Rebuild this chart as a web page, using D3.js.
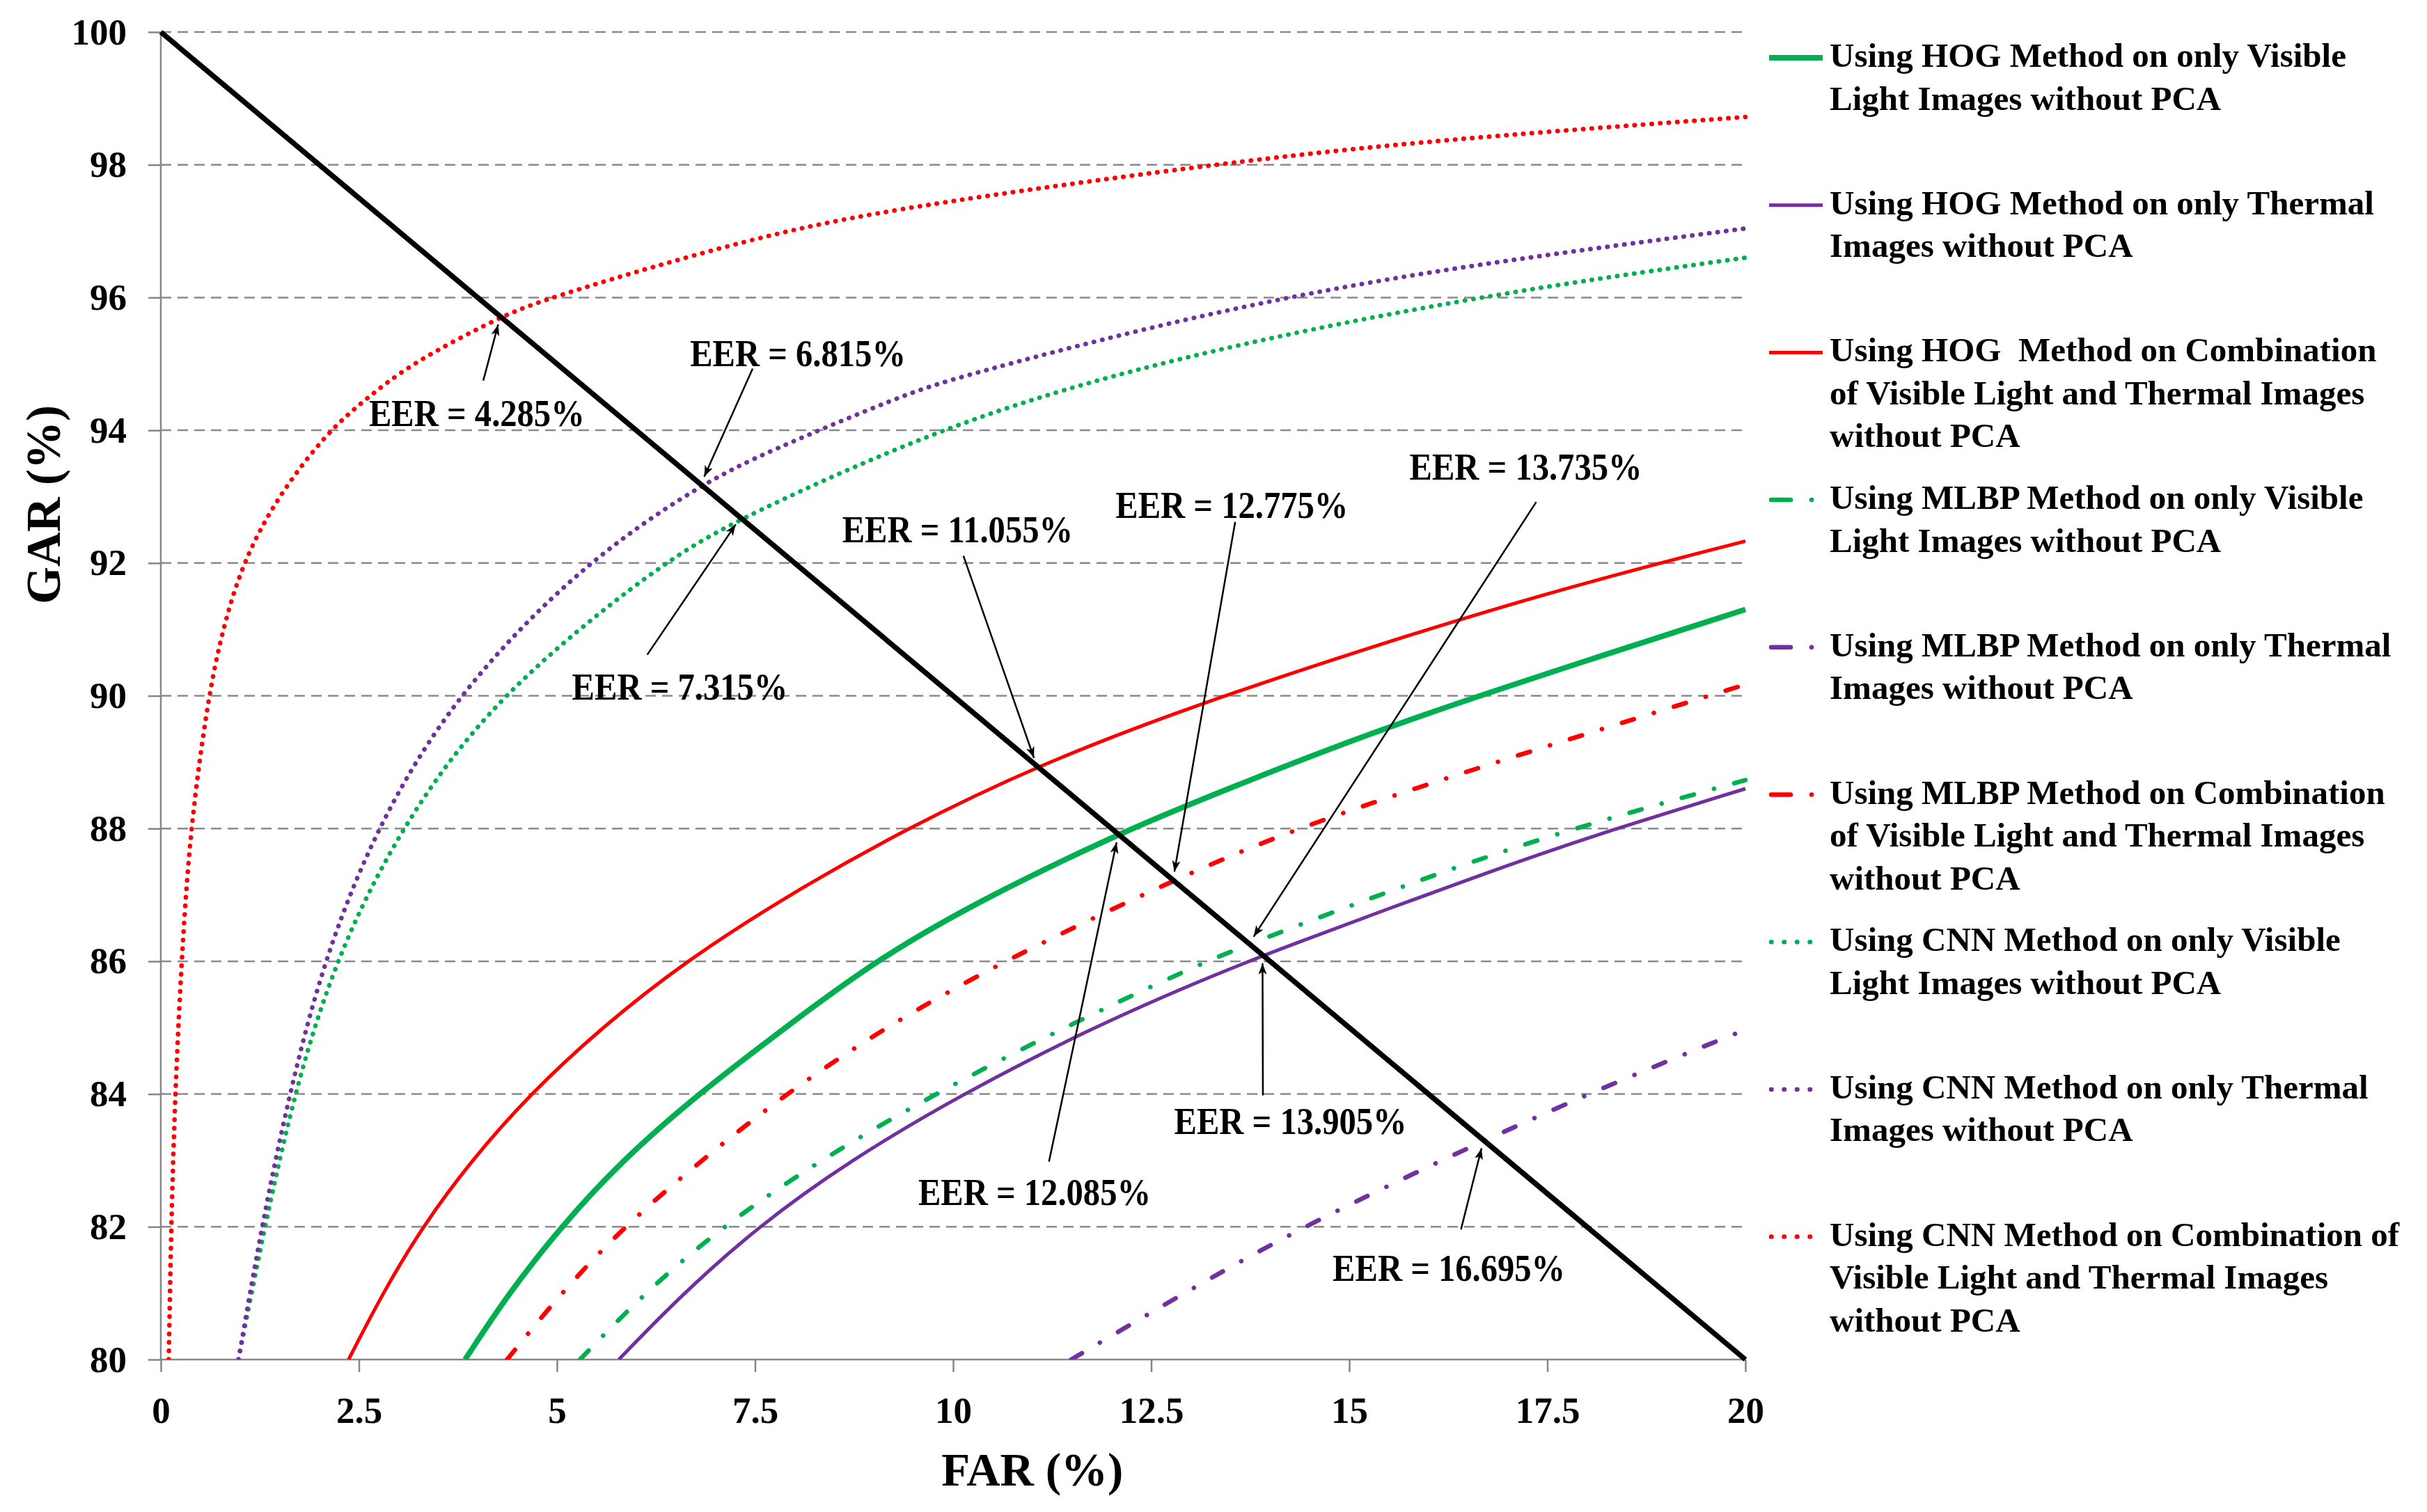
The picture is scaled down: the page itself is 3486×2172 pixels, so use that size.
<!DOCTYPE html>
<html>
<head>
<meta charset="utf-8">
<script src="https://cdn.jsdelivr.net/npm/d3@7/dist/d3.min.js"></script>
<style>
  html, body { margin: 0; padding: 0; background: #ffffff; }
  svg { display: block; }
</style>
</head>
<body>
<script>
// ---------------- DATA ----------------
const farTicks = [0, 2.5, 5, 7.5, 10, 12.5, 15, 17.5, 20];
const garTicks = [80, 82, 84, 86, 88, 90, 92, 94, 96, 98, 100];

// [FAR %, GAR %] points
const hogVisible = [[3.84,80],[4.39,81],[5.05,82],[5.82,83],[6.78,84],[7.88,85],[9.06,86.05],[10.47,87],[12.085,87.915],[12.91,88.33],[14.73,89.2],[16.58,89.99],[20,91.3]];
const hogThermal = [[5.78,80],[6.55,80.95],[7.53,82],[8.7,83],[10.11,84],[11.76,85],[12.91,85.6],[13.905,86.095],[16.99,87.45],[18.26,87.96],[20,88.6]];
const hogCombo = [[2.37,80],[2.8,81],[3.3,82],[3.92,83],[4.66,84],[5.56,85],[6.62,86],[7.92,87],[9.41,88],[11.055,88.945],[12.91,89.8],[15.3,90.75],[17.63,91.6],[20,92.33]];
const mlbpVisible = [[5.29,80],[6.1,81],[7.08,82],[8.31,83],[9.76,84],[11.39,85],[12.91,85.85],[13.735,86.265],[15.6,87.1],[17.45,87.88],[20,88.73]];
const mlbpThermal = [[11.49,80],[12.91,81.0],[14.4,82.0],[16.695,83.305],[18.4,84.2],[20,84.97]];
const mlbpCombo = [[4.37,80],[5.05,81],[5.84,82],[6.82,83],[7.88,84],[9.13,85],[10.62,86],[12.775,87.225],[14.31,88],[16.54,88.89],[20,90.17]];
const cnnVisible = [[0.98,80],[1.31,82],[1.68,84],[2.19,86],[3.01,88],[4.22,90],[6.31,92],[7.315,92.685],[10,94.13],[12.5,95.0],[15,95.65],[17.5,96.18],[20,96.6]];
const cnnThermal = [[0.98,80],[1.27,82],[1.62,84],[2.05,86],[2.71,88],[3.7,90],[5.33,92],[6.815,93.185],[7.64,93.67],[9.39,94.54],[10,94.78],[12.5,95.57],[15,96.2],[17.5,96.65],[20,97.04]];
const cnnCombo = [[0.10,80],[0.13,82],[0.18,84],[0.26,86],[0.37,88],[0.6,90],[0.78,91],[1.03,92],[1.47,93],[2.12,94],[2.6,94.48],[3.15,95],[4.285,95.715],[4.9,96],[7.5,96.92],[9.39,97.37],[13.22,98],[15.41,98.29],[17.5,98.5],[20,98.72]];
const eerLine = [[0,100],[20,80]];

// EER values (%) for each method
const eerValues = [4.285, 6.815, 7.315, 11.055, 12.775, 13.735, 13.905, 12.085, 16.695];

const legendLabels = [
  ["Using HOG Method on only Visible", "Light Images without PCA"],
  ["Using HOG Method on only Thermal", "Images without PCA"],
  ["Using HOG  Method on Combination", "of Visible Light and Thermal Images", "without PCA"],
  ["Using MLBP Method on only Visible", "Light Images without PCA"],
  ["Using MLBP Method on only Thermal", "Images without PCA"],
  ["Using MLBP Method on Combination", "of Visible Light and Thermal Images", "without PCA"],
  ["Using CNN Method on only Visible", "Light Images without PCA"],
  ["Using CNN Method on only Thermal", "Images without PCA"],
  ["Using CNN Method on Combination of", "Visible Light and Thermal Images", "without PCA"]
];

// ---------------- LAYOUT / STYLE ----------------
const W = 3486, H = 2172;
const GREEN = "#00b050", PURPLE = "#7030a0", RED = "#ff0000";
const DASHDOT = "18,30,0.1,30", DOTTED = "0.5,11.8";

const seriesStyles = [
  { data: hogVisible, color: GREEN, width: 8, dash: null },
  { data: hogThermal, color: PURPLE, width: 5, dash: null },
  { data: hogCombo, color: RED, width: 5, dash: null },
  { data: mlbpVisible, color: GREEN, width: 6.5, dash: DASHDOT },
  { data: mlbpThermal, color: PURPLE, width: 6.5, dash: DASHDOT },
  { data: mlbpCombo, color: RED, width: 6.5, dash: DASHDOT },
  { data: cnnVisible, color: GREEN, width: 6.5, dash: DOTTED },
  { data: cnnThermal, color: PURPLE, width: 6.5, dash: DOTTED },
  { data: cnnCombo, color: RED, width: 6.5, dash: DOTTED }
];

// annotation placement (in data coordinates): text left/baseline, arrow tail
const annotLayout = [
  { tx: 2.627, ty: 94.06, ax: 4.07, ay: 94.75 },
  { tx: 6.68, ty: 94.97, ax: 7.47, ay: 94.93 },
  { tx: 5.19, ty: 89.94, ax: 6.14, ay: 90.62 },
  { tx: 8.60, ty: 92.31, ax: 10.13, ay: 92.11 },
  { tx: 12.05, ty: 92.68, ax: 13.56, ay: 92.62 },
  { tx: 15.76, ty: 93.26, ax: 17.36, ay: 92.92 },
  { tx: 12.79, ty: 83.40, ax: 13.91, ay: 83.98 },
  { tx: 9.56, ty: 82.33, ax: 11.21, ay: 82.98 },
  { tx: 14.79, ty: 81.18, ax: 16.41, ay: 81.96 }
];

const x = d3.scaleLinear().domain([0, 20]).range([231, 2507]);
const y = d3.scaleLinear().domain([80, 100]).range([1953, 46]);

const SERIF = "'Liberation Serif', 'Times New Roman', serif";
const AXIS_GRAY = "#868686";

const svg = d3.select("body").append("svg")
  .attr("width", W).attr("height", H)
  .attr("viewBox", `0 0 ${W} ${H}`);

svg.append("rect").attr("width", W).attr("height", H).attr("fill", "#fff");

const defs = svg.append("defs");
defs.append("clipPath").attr("id", "plotClip")
  .append("rect")
  .attr("x", x(0)).attr("y", y(100) - 10)
  .attr("width", x(20) - x(0) + 10).attr("height", y(80) - y(100) + 10);

defs.append("marker")
  .attr("id", "arrowHead")
  .attr("viewBox", "0 0 16 12")
  .attr("refX", 16).attr("refY", 6)
  .attr("markerWidth", 16).attr("markerHeight", 12)
  .attr("markerUnits", "userSpaceOnUse")
  .attr("orient", "auto")
  .append("path").attr("d", "M0,0 L16,6 L0,12 L4,6 Z").attr("fill", "#000");

// ---------------- GRID ----------------
svg.append("g").selectAll("line")
  .data(garTicks.filter(v => v > 80))
  .join("line")
  .attr("x1", x(0)).attr("x2", x(20))
  .attr("y1", d => y(d)).attr("y2", d => y(d))
  .attr("stroke", "#8a8a8a").attr("stroke-width", 2.5)
  .attr("stroke-dasharray", "15,9");

// ---------------- AXES ----------------
const xAxis = d3.axisBottom(x).tickValues(farTicks).tickSize(18).tickFormat(d3.format("~g"));
const yAxis = d3.axisLeft(y).tickValues(garTicks).tickSize(18).tickFormat(d3.format("d"));

const gx = svg.append("g").attr("transform", `translate(0,${y(80)})`).call(xAxis);
gx.select(".domain").attr("stroke", AXIS_GRAY).attr("stroke-width", 2.5).attr("d", `M${x(0)},0H${x(20)}`);
gx.selectAll(".tick line").attr("stroke", AXIS_GRAY).attr("stroke-width", 2.5);
gx.selectAll(".tick text")
  .attr("y", 91).attr("dy", null)
  .attr("font-family", SERIF).attr("font-weight", "bold").attr("font-size", 53)
  .attr("fill", "#000");

const gy = svg.append("g").attr("transform", `translate(${x(0)},0)`).call(yAxis);
gy.select(".domain").attr("stroke", AXIS_GRAY).attr("stroke-width", 2.5).attr("d", `M0,${y(100)}V${y(80)}`);
gy.selectAll(".tick line").attr("stroke", AXIS_GRAY).attr("stroke-width", 2.5);
gy.selectAll(".tick text")
  .attr("x", -49).attr("dy", 17)
  .attr("font-family", SERIF).attr("font-weight", "bold").attr("font-size", 53)
  .attr("fill", "#000");

// axis titles
svg.append("text")
  .attr("x", x(11.0)).attr("y", 2134)
  .attr("text-anchor", "middle")
  .attr("font-family", SERIF).attr("font-weight", "bold").attr("font-size", 67)
  .text("FAR (%)");

svg.append("text")
  .attr("transform", `translate(86,${y(92.88)}) rotate(-90)`)
  .attr("text-anchor", "middle")
  .attr("font-family", SERIF).attr("font-weight", "bold").attr("font-size", 69)
  .text("GAR (%)");

// ---------------- CURVES ----------------
const line = d3.line()
  .x(d => x(d[0])).y(d => y(d[1]))
  .curve(d3.curveBasis);

const curves = svg.append("g").attr("clip-path", "url(#plotClip)");
seriesStyles.forEach(s => {
  curves.append("path")
    .attr("d", line(s.data))
    .attr("fill", "none")
    .attr("stroke", s.color)
    .attr("stroke-width", s.width)
    .attr("stroke-dasharray", s.dash)
    .attr("stroke-linecap", s.dash ? "round" : "butt")
    .attr("stroke-linejoin", "round");
});

// EER reference line
svg.append("path")
  .attr("d", d3.line().x(d => x(d[0])).y(d => y(d[1]))(eerLine))
  .attr("fill", "none").attr("stroke", "#000").attr("stroke-width", 7.5);

// ---------------- ANNOTATIONS ----------------
const annot = svg.append("g");
eerValues.forEach((e, i) => {
  const L = annotLayout[i];
  const px = x(e), py = y(100 - e);
  const tx = x(L.ax), ty = y(L.ay);
  const dx = px - tx, dy = py - ty, len = Math.hypot(dx, dy);
  const back = 12;
  const hx = px - dx / len * back, hy = py - dy / len * back;
  annot.append("line")
    .attr("x1", tx).attr("y1", ty).attr("x2", hx).attr("y2", hy)
    .attr("stroke", "#000").attr("stroke-width", 2.5)
    .attr("marker-end", "url(#arrowHead)");
  annot.append("text")
    .attr("transform", `translate(${x(L.tx)},${y(L.ty)}) scale(0.9,1)`)
    .attr("font-family", SERIF).attr("font-weight", "bold").attr("font-size", 54)
    .attr("fill", "#000")
    .text(`EER = ${e.toFixed(3)}%`);
});

// ---------------- LEGEND ----------------
const legend = svg.append("g");
const legX0 = 2541, legX1 = 2618, legTextX = 2628;
const legendDash = [null, null, null, "28,30,0.1,30", "28,30,0.1,30", "28,30,0.1,30", "0.5,18", "0.5,18", "0.5,18"];
legendLabels.forEach((lines, i) => {
  const base = 96 + i * 211.7;
  const s = seriesStyles[i];
  legend.append("line")
    .attr("x1", legX0 + (s.dash ? 3 : 0)).attr("x2", legX1)
    .attr("y1", base - 13).attr("y2", base - 13)
    .attr("stroke", s.color).attr("stroke-width", s.width)
    .attr("stroke-dasharray", legendDash[i])
    .attr("stroke-linecap", s.dash ? "round" : "butt");
  const t = legend.append("text")
    .attr("font-family", SERIF).attr("font-weight", "bold").attr("font-size", 49)
    .attr("fill", "#000")
    .style("white-space", "pre");
  lines.forEach((ln, j) => {
    t.append("tspan").attr("x", legTextX).attr("y", base + j * 61.5).text(ln);
  });
});
</script>
</body>
</html>
